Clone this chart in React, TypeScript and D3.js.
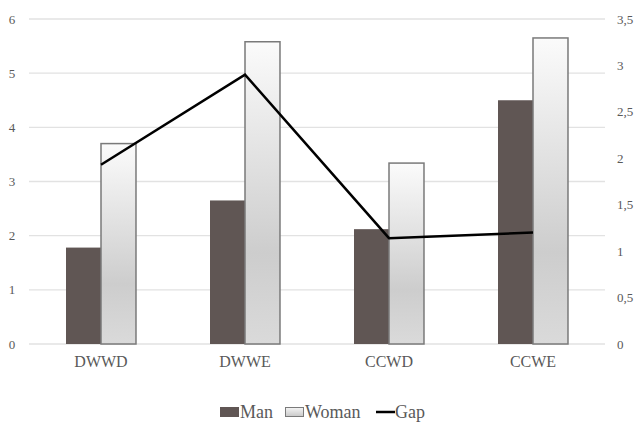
import React from "react";
import * as d3 from "d3";

const categories = ["DWWD", "DWWE", "CCWD", "CCWE"];
const manValues = [1.78, 2.65, 2.12, 4.5];
const womanValues = [3.7, 5.58, 3.34, 5.65];
const gapValues = [1.93, 2.9, 1.14, 1.2];
const leftTicks = [0, 1, 2, 3, 4, 5, 6];
const rightTicks = [0, 0.5, 1, 1.5, 2, 2.5, 3, 3.5];
const seriesNames = ["Man", "Woman", "Gap"];

const W = 635;
const H = 422;
const left = 29;
const right = 605;
const top = 19;
const bottom = 344;

const MAN = "#605654";
const TXT = "#595959";

export default function App() {
  const x = d3.scaleBand<string>().domain(categories).range([left, right]).paddingInner(0).paddingOuter(0);
  const yL = d3.scaleLinear().domain([0, 6]).range([bottom, top]);
  const yR = d3.scaleLinear().domain([0, 3.5]).range([bottom, top]);
  const barW = x.bandwidth() * 0.243;
  const cx = (c: string) => (x(c) as number) + x.bandwidth() / 2;
  const line = d3
    .line<number>()
    .x((_, i) => cx(categories[i]))
    .y((d) => yR(d));
  const fmt = (v: number) => String(v).replace(".", ",");

  return (
    <svg width={W} height={H} className="chart" style={{ position: "absolute", left: 0, top: 0, background: "#fff" }}>
      <style>{`.chart text { font-family: 'Liberation Serif', 'Times New Roman', serif; }`}</style>
      <defs>
        <linearGradient id="wg" x1="0" y1="0" x2="0" y2="1">
          <stop offset="0%" stopColor="#fbfbfb" />
          <stop offset="70%" stopColor="#cdcdcd" />
          <stop offset="100%" stopColor="#dadada" />
        </linearGradient>
        <linearGradient id="wgl" x1="0" y1="0" x2="0" y2="1">
          <stop offset="0%" stopColor="#f5f5f5" />
          <stop offset="100%" stopColor="#c8c8c8" />
        </linearGradient>
      </defs>
      <rect x={0} y={0} width={W} height={H} fill="#fff" />
      {leftTicks.map((t) => (
        <g key={"l" + t}>
          <line x1={left} x2={right} y1={yL(t)} y2={yL(t)} stroke="#e2e2e2" strokeWidth={1.3} />
          <text x={12} y={yL(t)} dy="0.35em" textAnchor="middle" fontSize={13} fill={TXT}>
            {t}
          </text>
        </g>
      ))}
      {rightTicks.map((t) => (
        <text key={"r" + t} x={617} y={yR(t)} dy="0.35em" textAnchor="start" fontSize={13} fill={TXT}>
          {fmt(t)}
        </text>
      ))}
      {categories.map((c, i) => (
        <g key={c}>
          <rect x={cx(c) - barW} y={yL(manValues[i])} width={barW} height={bottom - yL(manValues[i])} fill={MAN} />
          <rect
            x={cx(c)}
            y={yL(womanValues[i])}
            width={barW}
            height={bottom - yL(womanValues[i])}
            fill="url(#wg)"
            stroke="#7a7a7a"
            strokeWidth={1.5}
          />
          <text x={cx(c)} y={367} textAnchor="middle" fontSize={16} fill={TXT}>
            {c}
          </text>
        </g>
      ))}
      <path d={line(gapValues) || ""} fill="none" stroke="#000" strokeWidth={2.5} strokeLinejoin="miter" />
      <g>
        <rect x={220} y={407} width={19} height={10} fill={MAN} />
        <text x={240} y={418} fontSize={18} fill={TXT}>
          {seriesNames[0]}
        </text>
        <rect x={285.5} y={407.5} width={18} height={9} fill="url(#wgl)" stroke="#7a7a7a" strokeWidth={1} />
        <text x={305} y={418} fontSize={18} fill={TXT}>
          {seriesNames[1]}
        </text>
        <line x1={376} x2={395} y1={412} y2={412} stroke="#000" strokeWidth={2.5} />
        <text x={395} y={418} fontSize={18} fill={TXT}>
          {seriesNames[2]}
        </text>
      </g>
    </svg>
  );
}
